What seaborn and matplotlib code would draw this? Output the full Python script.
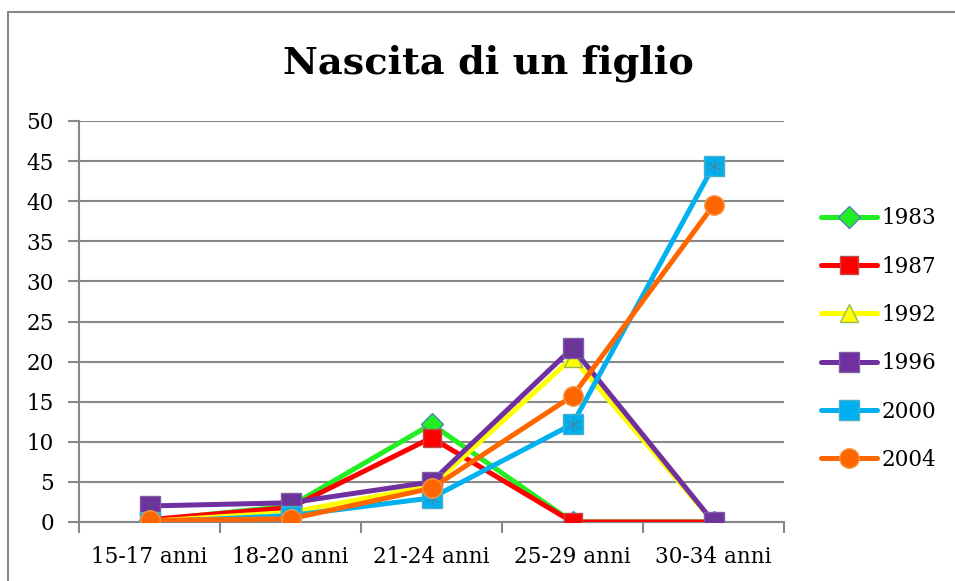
import matplotlib
matplotlib.use("Agg")
import matplotlib.pyplot as plt
import seaborn as sns
import pandas as pd
from matplotlib.lines import Line2D

categories = ["15-17 anni", "18-20 anni", "21-24 anni", "25-29 anni", "30-34 anni"]
years = ["1983", "1987", "1992", "1996", "2000", "2004"]
v1983 = [0.2, 2.0, 12.2, 0.0, 0.0]
v1987 = [0.3, 1.8, 10.5, 0.0, 0.0]
v1992 = [0.1, 1.2, 4.5, 20.5, 0.0]
v1996 = [2.0, 2.4, 5.0, 21.7, 0.0]
v2000 = [0.0, 0.8, 3.0, 12.2, 44.4]
v2004 = [0.2, 0.4, 4.2, 15.7, 39.5]
series = [v1983, v1987, v1992, v1996, v2000, v2004]

colors = ["#22EE22", "#FF0000", "#FFFF00", "#7030A0", "#00B0F0", "#FF6600"]
markers = ["D", "s", "^", "s", "s", "o"]
msizes = [11, 13, 13, 14, 14, 14]
edgecols = ["#4F81BD", "#BE4B48", "#98B954", "#7D60A0", "#4BACC6", "#F79646"]

rows = []
for y, vals in zip(years, series):
    for i, (c, v) in enumerate(zip(categories, vals)):
        rows.append({"cat": i, "label": c, "year": y, "value": v})
df = pd.DataFrame(rows)

sns.set_theme(style="white")
plt.rcParams["font.family"] = ["DejaVu Serif"]

fig = plt.figure(figsize=(9.55, 5.81), dpi=100)
ax = fig.add_axes([79/955, 1-522/581, (784-79)/955, (522-121)/581])

for k, (y, col, mk, ms, ec) in enumerate(zip(years, colors, markers, msizes, edgecols)):
    sub = df[df["year"] == y]
    z = 3 + 2 * k
    sns.lineplot(data=sub, x="cat", y="value", ax=ax, color=col, linewidth=3.6,
                 marker=mk, markersize=ms, markeredgecolor=ec, markeredgewidth=1.0,
                 label=y, zorder=z)
    if y == "1996":
        sns.scatterplot(data=sub, x="cat", y="value", ax=ax, marker="x", s=110,
                        color="#5A4A7A", linewidth=0.8, zorder=z + 1, legend=False)
    if y == "2000":
        sns.scatterplot(data=sub, x="cat", y="value", ax=ax, marker=(6, 2, 0), s=110,
                        color="#3A8AB0", linewidth=0.8, zorder=z + 1, legend=False)

ax.set_xlim(-0.5, 4.5)
ax.set_ylim(0, 50)
ax.set_yticks(range(0, 51, 5))
ax.set_xticks(range(5))
ax.set_xticklabels(categories)
ax.set_xticks([i - 0.5 for i in range(6)], minor=True)
ax.tick_params(axis="x", which="major", length=0, pad=17, labelsize=15.5)
ax.tick_params(axis="x", which="minor", length=8, width=1.5, color="#888888", direction="out", bottom=True)
ax.tick_params(axis="y", length=8, width=1.5, color="#888888", direction="out", left=True, labelsize=15.5, pad=10)
ax.yaxis.grid(True, color="#888888", linewidth=1.5)
ax.xaxis.grid(False)
for s in ["top", "right"]:
    ax.spines[s].set_visible(False)
for s in ["left", "bottom"]:
    ax.spines[s].set_color("#888888")
    ax.spines[s].set_linewidth(1.5)
ax.set_xlabel("")
ax.set_ylabel("")
for lab in ax.get_xticklabels() + ax.get_yticklabels():
    lab.set_color("black")

fig.text(488/955, 1-63/581, "Nascita di un figlio", ha="center", va="center",
         fontsize=27.5, fontweight="bold", color="black", family=["DejaVu Serif"])

leg = ax.legend(loc="center left", bbox_to_anchor=(1.025, 0.456), frameon=False,
                fontsize=15.5, handlelength=2.6, labelspacing=1.22, handletextpad=0.2)
for t in leg.get_texts():
    t.set_color("black")

fig.add_artist(Line2D([8/955, 8/955], [0, 1-12/581], color="#888888", linewidth=1.5))
fig.add_artist(Line2D([8/955, 1], [1-12/581, 1-12/581], color="#888888", linewidth=1.5))

fig.savefig("out.png", dpi=100)
